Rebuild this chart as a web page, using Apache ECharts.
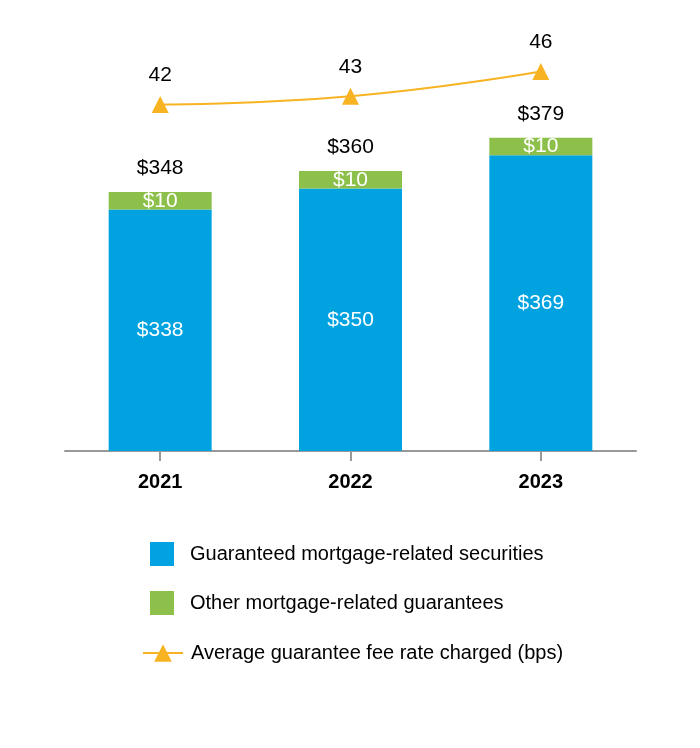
<!DOCTYPE html>
<html>
<head>
<meta charset="utf-8">
<script src="https://cdn.jsdelivr.net/npm/echarts@6/dist/echarts.min.js"></script>
<style>
  html, body { margin: 0; padding: 0; background: #fff; }
  #chart { width: 700px; height: 748px; }
</style>
</head>
<body>
<div id="chart"></div>
<script>
// data
const years = ['2021', '2022', '2023'];
const guaranteedSecurities = [338, 350, 369];
const otherGuarantees = [10, 10, 10];
const totals = [348, 360, 379];
const feeRate = [42, 43, 46];

const FONT = '"Liberation Sans", Arial, sans-serif';
const BLUE = '#00A3E0';
const GREEN = '#8CC04B';
const ORANGE = '#F8B323';

const chart = echarts.init(document.getElementById('chart'));

chart.setOption({
  animation: false,
  textStyle: { fontFamily: FONT },
  grid: { left: 65, right: 64, top: 38.5, bottom: 297 },
  legend: [
    {
      orient: 'vertical',
      left: 150,
      top: 542,
      padding: 0,
      itemWidth: 24,
      itemHeight: 24,
      itemGap: 25,
      icon: 'rect',
      data: ['Guaranteed mortgage-related securities', 'Other mortgage-related guarantees'],
      textStyle: { fontFamily: FONT, fontSize: 20, color: '#000', padding: [0, 0, 0, 11] }
    },
    {
      orient: 'vertical',
      left: 142,
      top: 643,
      padding: 0,
      itemWidth: 40,
      itemHeight: 22,
      data: ['Average guarantee fee rate charged (bps)'],
      textStyle: { fontFamily: FONT, fontSize: 20, color: '#000', padding: [0, 0, 0, 3] }
    }
  ],
  xAxis: {
    type: 'category',
    data: years,
    axisLine: { lineStyle: { color: '#999', width: 2 } },
    axisTick: { show: true, alignWithLabel: true, length: 10, lineStyle: { color: '#999', width: 2 } },
    axisLabel: { fontFamily: FONT, fontSize: 20, fontWeight: 'bold', color: '#000', margin: 21 }
  },
  yAxis: [
    { type: 'value', min: 200, max: 435.7, show: false, splitLine: { show: false } },
    { type: 'value', min: 0, max: 50, show: false, splitLine: { show: false } }
  ],
  series: [
    {
      name: 'Guaranteed mortgage-related securities',
      type: 'bar',
      stack: 'total',
      barWidth: 103,
      data: guaranteedSecurities,
      itemStyle: { color: BLUE },
      label: {
        show: true, position: 'inside', color: '#fff',
        fontFamily: FONT, fontSize: 21,
        formatter: p => '$' + p.value
      }
    },
    {
      name: 'Other mortgage-related guarantees',
      type: 'bar',
      stack: 'total',
      barWidth: 103,
      data: otherGuarantees,
      itemStyle: { color: GREEN },
      label: {
        show: true, position: 'inside', color: '#fff',
        fontFamily: FONT, fontSize: 21,
        formatter: p => '$' + p.value
      }
    },
    {
      name: 'Total',
      type: 'bar',
      stack: 'total',
      barWidth: 103,
      data: years.map(() => 0),
      itemStyle: { color: 'transparent' },
      label: {
        show: true, position: 'top', distance: 13, color: '#000',
        fontFamily: FONT, fontSize: 21,
        formatter: p => '$' + totals[p.dataIndex]
      }
    },
    {
      name: 'Average guarantee fee rate charged (bps)',
      type: 'line',
      yAxisIndex: 1,
      smooth: true,
      data: feeRate,
      symbol: 'triangle',
      symbolSize: 17,
      lineStyle: { color: ORANGE, width: 2 },
      itemStyle: { color: ORANGE },
      label: {
        show: true, position: 'top', distance: 10, color: '#000',
        fontFamily: FONT, fontSize: 21
      }
    }
  ]
});
</script>
</body>
</html>
